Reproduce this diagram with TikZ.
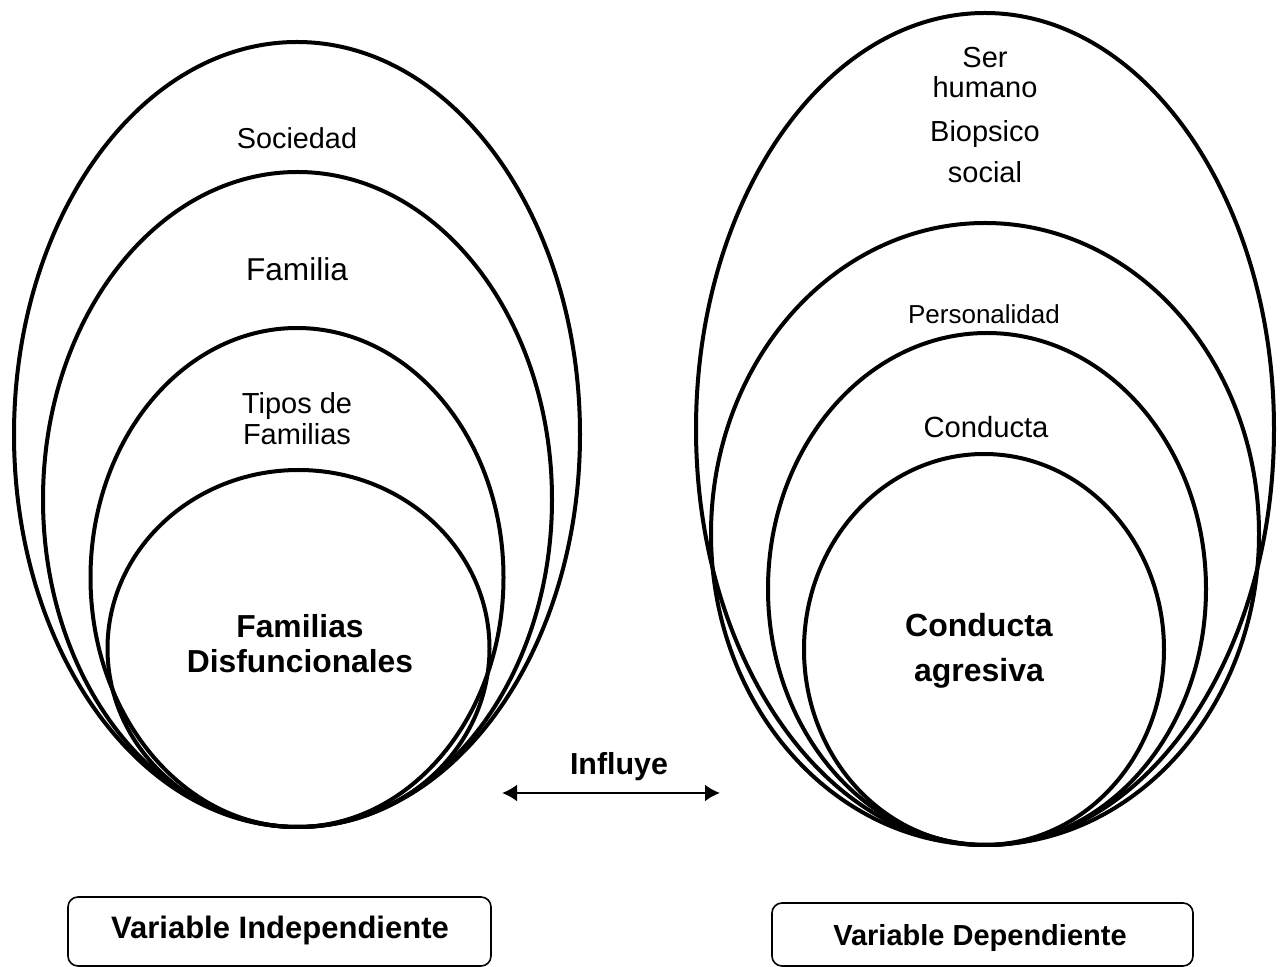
\documentclass[tikz,border=0pt]{standalone}
\usepackage{fontspec}
\setmainfont{Liberation Sans}
\usetikzlibrary{shapes.geometric,arrows.meta}
\tikzset{
  ring/.style={draw=black, line width=2pt, ellipse, inner sep=0pt},
  lbl/.style={anchor=base, inner sep=0pt, align=center},
  varbox/.style={draw=black, line width=0.8pt, rounded corners=5pt},
}
\begin{document}
\begin{tikzpicture}[x=0.5pt,y=-0.5pt]
\useasboundingbox (0,0) rectangle (1281,967);
% left set
\node[ring, minimum width=566pt*0.5, minimum height=785pt*0.5] (Lsoc) at (297,434.5) {};
\node[ring, minimum width=509pt*0.5, minimum height=655pt*0.5] (Lfam) at (297.5,499.5) {};
\node[ring, minimum width=413pt*0.5, minimum height=499pt*0.5] (Ltip) at (297,577.5) {};
\node[ring, minimum width=382pt*0.5, minimum height=357pt*0.5] (Ldis) at (298.5,648.5) {};
% right set
\node[ring, minimum width=578pt*0.5, minimum height=832pt*0.5] (Rser) at (985,429) {};
\node[ring, minimum width=548pt*0.5, minimum height=622pt*0.5] (Rper) at (985,534) {};
\node[ring, minimum width=438pt*0.5, minimum height=512pt*0.5] (Rcon) at (987,589) {};
\node[ring, minimum width=360pt*0.5, minimum height=391pt*0.5] (Ragr) at (984,649.5) {};
% left labels
\node[lbl, font=\fontsize{14.4pt}{17pt}\selectfont] (tsoc) at (297,149) {Sociedad};
\node[lbl, font=\fontsize{15.8pt}{18pt}\selectfont] (tfam) at (297,281) {Familia};
\node[lbl, font=\fontsize{14.5pt}{17pt}\selectfont] (ttip1) at (297,414) {Tipos de};
\node[lbl, font=\fontsize{14.5pt}{17pt}\selectfont] (ttip2) at (297,445) {Familias};
\node[lbl, font=\bfseries\fontsize{15.9pt}{18pt}\selectfont] (tdis1) at (300,638) {Familias};
\node[lbl, font=\bfseries\fontsize{15.9pt}{18pt}\selectfont] (tdis2) at (300,673) {Disfuncionales};
% right labels
\node[lbl, font=\fontsize{14.5pt}{17pt}\selectfont] (tser1) at (985,68) {Ser};
\node[lbl, font=\fontsize{14.5pt}{17pt}\selectfont] (tser2) at (985,98) {humano};
\node[lbl, font=\fontsize{14.5pt}{17pt}\selectfont] (tser3) at (985,142) {Biopsico};
\node[lbl, font=\fontsize{14.5pt}{17pt}\selectfont] (tser4) at (985,183) {social};
\node[lbl, font=\fontsize{13pt}{15pt}\selectfont] (tper) at (984,324) {Personalidad};
\node[lbl, font=\fontsize{14.6pt}{17pt}\selectfont] (tcon) at (986,438) {Conducta};
\node[lbl, font=\bfseries\fontsize{16pt}{18pt}\selectfont] (tagr1) at (979,637) {Conducta};
\node[lbl, font=\bfseries\fontsize{16pt}{18pt}\selectfont] (tagr2) at (979,682) {agresiva};
% arrow
\coordinate (aL) at (502,793);
\coordinate (aR) at (720,793);
\draw[line width=1.2pt, {Latex[length=7.5pt,width=8.5pt]}-{Latex[length=7.5pt,width=8.5pt]}] (aL) -- (aR);
\node[lbl, font=\bfseries\fontsize{15.2pt}{18pt}\selectfont] (tinf) at (619,775) {Influye};
% boxes
\draw[varbox] (68,897) rectangle (491,966);
\node[lbl, font=\bfseries\fontsize{15.5pt}{18pt}\selectfont] (vind) at (280,939) {Variable Independiente};
\draw[varbox] (772,903) rectangle (1193,966);
\node[lbl, font=\bfseries\fontsize{14.5pt}{17pt}\selectfont] (vdep) at (980,945) {Variable Dependiente};
\end{tikzpicture}
\end{document}
